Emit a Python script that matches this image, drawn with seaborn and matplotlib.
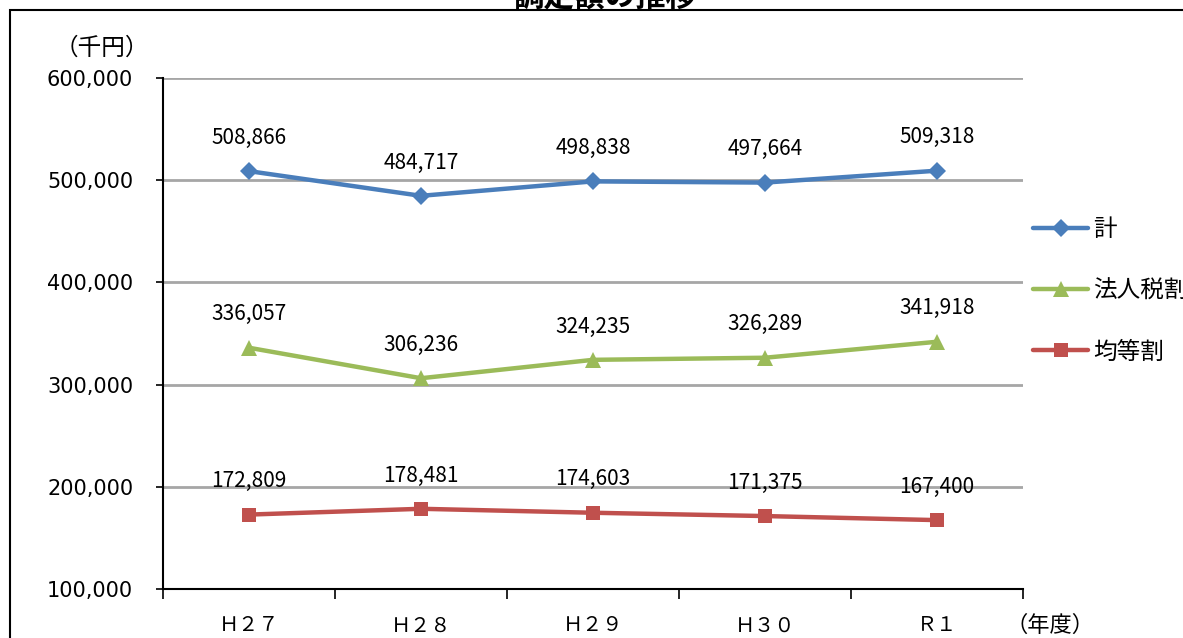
import matplotlib
matplotlib.use("Agg")
import matplotlib.pyplot as plt
import seaborn as sns
import pandas as pd
from matplotlib.patches import Rectangle
from matplotlib.ticker import FuncFormatter

categories = ["Ｈ２７", "Ｈ２８", "Ｈ２９", "Ｈ３０", "Ｒ１"]
total = [508866, 484717, 498838, 497664, 509318]
corporate = [336057, 306236, 324235, 326289, 341918]
per_capita = [172809, 178481, 174603, 171375, 167400]
series_names = ["計", "法人税割", "均等割"]

sns.set_theme(style="white")
plt.rcParams['font.family'] = ['Noto Sans CJK JP', 'DejaVu Sans']
plt.rcParams['text.color'] = 'black'
plt.rcParams['xtick.color'] = 'black'
plt.rcParams['ytick.color'] = 'black'
plt.rcParams['xtick.labelcolor'] = 'black'
plt.rcParams['ytick.labelcolor'] = 'black'

W, H = 1183, 638
fig = plt.figure(figsize=(W / 100, H / 100), dpi=100)
ax = fig.add_axes([163 / W, 1 - 589 / H, (1023 - 163) / W, (589 - 78) / H])

colors = ["#4A7EBB", "#9BBB59", "#C0504D"]
markers = ["D", "^", "s"]
msizes = [9, 11, 10]
values = [total, corporate, per_capita]

for name, vals, c, m, ms in zip(series_names, values, colors, markers, msizes):
    df = pd.DataFrame({"x": list(range(len(categories))), "y": vals})
    sns.lineplot(data=df, x="x", y="y", ax=ax, color=c, marker=m,
                 markersize=ms, markeredgewidth=0, linewidth=3.2, label=name)
    for i, v in enumerate(vals):
        ax.annotate(f"{v:,}", (i, v), xytext=(0, 24), textcoords="offset points",
                    ha="center", va="center", fontsize=15, color="black")

ax.set_ylim(100000, 600000)
ax.set_yticks(range(100000, 600001, 100000))
ax.yaxis.set_major_formatter(FuncFormatter(lambda v, p: f"{int(v):,}"))
ax.set_xlim(-0.5, len(categories) - 0.5)
ax.set_xticks([i - 0.5 for i in range(len(categories) + 1)])
ax.set_xticklabels([])
ax.set_xticks(list(range(len(categories))), minor=True)
ax.set_xticklabels(categories, minor=True, fontsize=14.5)
ax.tick_params(axis="x", which="major", direction="out", length=7, width=1.2,
               color="black", bottom=True)
ax.tick_params(axis="x", which="minor", length=0, pad=19)
ax.tick_params(axis="y", direction="out", length=5, width=1.2, color="black",
               left=True, labelsize=15, pad=16.5)
for lab in ax.get_yticklabels():
    lab.set_fontfamily(['DejaVu Sans'])

ax.set_xlabel("")
ax.set_ylabel("")
ax.grid(axis="y", color="#A6A6A6", linewidth=2)
ax.grid(axis="x", visible=False)
ax.set_axisbelow(True)
for s in ["top", "right"]:
    ax.spines[s].set_visible(False)
for s in ["left", "bottom"]:
    ax.spines[s].set_color("black")
    ax.spines[s].set_linewidth(1.5)

handles, labels = ax.get_legend_handles_labels()
ax.get_legend().remove()
fig.legend(handles, labels, loc="center left",
           bbox_to_anchor=(1033 / W, 1 - 291 / H), frameon=False,
           fontsize=17, handlelength=2.33, handletextpad=0.2,
           labelspacing=1.62, borderpad=0, borderaxespad=0)

fig.text(102 / W, 1 - 48 / H, "（千円）", ha="center", va="center", fontsize=17)
fig.text(1050 / W, 1 - 625 / H, "（年度）", ha="center", va="center", fontsize=16)
fig.text(605 / W, 1 + 4 / H, "調定額の推移", ha="center", va="center",
         fontsize=22, fontweight="bold")

fig.patches.append(Rectangle((10 / W, -0.1), 2, 1.1 - 10 / H, transform=fig.transFigure,
                             fill=False, edgecolor="black", linewidth=1.5))

fig.savefig("out.png", dpi=100)
